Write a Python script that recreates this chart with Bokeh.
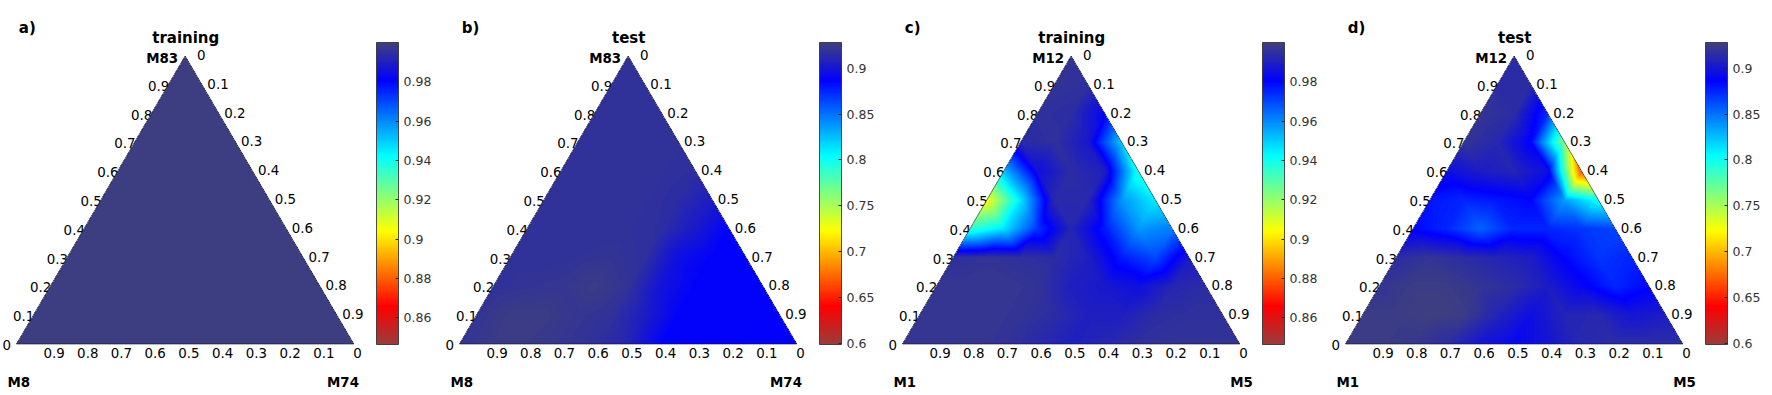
import numpy as np
from bokeh.plotting import figure
from bokeh.models import (LinearColorMapper, ColorBar, FixedTicker,
                          CustomJSTickFormatter, Range1d)
from bokeh.layouts import row
from bokeh.embed import file_html
from bokeh.resources import INLINE
from bokeh.core.properties import value

# ---------------- data ----------------
panel_letters = ["a)", "b)", "c)", "d)"]
panel_titles = ["training", "test", "training", "test"]
top_vertex = ["M83", "M83", "M12", "M12"]
left_vertex = ["M8", "M8", "M1", "M1"]
right_vertex = ["M74", "M74", "M5", "M5"]

# ternary axis tick values (same on the three edges)
axis_ticks = [0.0, 0.1, 0.2, 0.3, 0.4, 0.5, 0.6, 0.7, 0.8, 0.9]

# colour-bar ranges and ticks
cbar_low = [0.8465, 0.599, 0.8465, 0.599]
cbar_high = [1.0, 0.928, 1.0, 0.928]
cbar_ticks_training = [0.86, 0.88, 0.90, 0.92, 0.94, 0.96, 0.98]
cbar_ticks_test = [0.6, 0.65, 0.7, 0.75, 0.8, 0.85, 0.9]

# node values on the 0.1 ternary grid; row k -> top fraction c = k/10,
# entries within a row -> right fraction b = 0, 0.1, ... , 1 - c
acc_a = [
    [0.999, 0.999, 0.999, 0.999, 0.999, 0.999, 0.999, 0.999, 0.999, 0.999, 0.999],
    [0.999, 0.999, 0.999, 0.999, 0.999, 0.999, 0.999, 0.999, 0.999, 0.999],
    [0.999, 0.999, 0.999, 0.999, 0.999, 0.999, 0.999, 0.999, 0.999],
    [0.999, 0.999, 0.999, 0.999, 0.999, 0.999, 0.999, 0.999],
    [0.999, 0.999, 0.999, 0.999, 0.999, 0.999, 0.999],
    [0.999, 0.999, 0.999, 0.999, 0.999, 0.999],
    [0.999, 0.999, 0.999, 0.999, 0.999],
    [0.999, 0.999, 0.999, 0.999],
    [0.999, 0.999, 0.999],
    [0.999, 0.999],
    [0.999],
]
acc_b = [
    [0.920, 0.924, 0.924, 0.921, 0.918, 0.910, 0.887, 0.887, 0.887, 0.887, 0.887],
    [0.920, 0.925, 0.925, 0.921, 0.918, 0.905, 0.887, 0.887, 0.887, 0.888],
    [0.918, 0.920, 0.921, 0.925, 0.919, 0.898, 0.887, 0.887, 0.888],
    [0.918, 0.918, 0.919, 0.920, 0.917, 0.895, 0.887, 0.887],
    [0.918, 0.918, 0.918, 0.918, 0.916, 0.903, 0.887],
    [0.918, 0.918, 0.918, 0.918, 0.915, 0.905],
    [0.918, 0.918, 0.918, 0.918, 0.916],
    [0.918, 0.918, 0.918, 0.918],
    [0.918, 0.918, 0.918],
    [0.918, 0.918],
    [0.918],
]
acc_c = [
    [0.997, 0.997, 0.997, 0.996, 0.993, 0.990, 0.992, 0.995, 0.996, 0.996, 0.996],
    [0.997, 0.997, 0.997, 0.996, 0.994, 0.990, 0.990, 0.994, 0.995, 0.995],
    [0.997, 0.997, 0.997, 0.996, 0.990, 0.988, 0.985, 0.992, 0.994],
    [0.995, 0.996, 0.995, 0.994, 0.990, 0.977, 0.970, 0.988],
    [0.935, 0.946, 0.973, 0.992, 0.977, 0.958, 0.962],
    [0.905, 0.946, 0.993, 0.993, 0.958, 0.945],
    [0.952, 0.985, 0.994, 0.990, 0.938],
    [0.993, 0.995, 0.988, 0.950],
    [0.995, 0.994, 0.982],
    [0.996, 0.995],
    [0.996],
]
acc_d = [
    [0.925, 0.925, 0.922, 0.915, 0.900, 0.890, 0.900, 0.912, 0.915, 0.915, 0.915],
    [0.925, 0.925, 0.927, 0.925, 0.910, 0.895, 0.910, 0.912, 0.900, 0.905],
    [0.920, 0.925, 0.925, 0.920, 0.915, 0.905, 0.890, 0.875, 0.885],
    [0.915, 0.920, 0.915, 0.910, 0.905, 0.885, 0.870, 0.875],
    [0.885, 0.875, 0.855, 0.875, 0.875, 0.870, 0.865],
    [0.880, 0.875, 0.880, 0.885, 0.835, 0.800],
    [0.895, 0.905, 0.910, 0.895, 0.665],
    [0.920, 0.912, 0.885, 0.760],
    [0.920, 0.915, 0.872],
    [0.915, 0.915],
    [0.915],
]
panels_data = [acc_a, acc_b, acc_c, acc_d]

# ---------------- colormap (reversed jet with softened ends) ----------------
anchor_t = [0.0, 0.125, 0.375, 0.625, 0.875, 1.0]
anchor_rgb = [(155, 60, 60), (255, 0, 0), (255, 255, 0), (0, 255, 255), (0, 0, 255), (63, 63, 126)]


def build_palette(n=256):
    t = np.linspace(0, 1, n)
    chans = [np.interp(t, anchor_t, [c[k] for c in anchor_rgb]) for k in range(3)]
    return ["#%02x%02x%02x" % (int(round(r)), int(round(g)), int(round(b)))
            for r, g, b in zip(*chans)]


PALETTE = build_palette()
H = np.sqrt(3) / 2
FONT_NAME = "DejaVu Sans"
FONT = value(FONT_NAME)


def ternary_field(rows, nx, ny):
    N = len(rows) - 1
    V = np.zeros((N + 1, N + 1))
    for i, r in enumerate(rows):
        V[i, :len(r)] = r
    xs = (np.arange(nx) + 0.5) / nx
    ys = (np.arange(ny) + 0.5) / ny * H
    X, Y = np.meshgrid(xs, ys)
    c = Y / H
    b = X - c / 2
    a = 1 - b - c
    inside = (a >= -1e-9) & (b >= -1e-9) & (c >= -1e-9)
    cc = np.clip(c * N, 0, N - 1e-9)
    bb = np.clip(b * N, 0, N - 1e-9)
    i = np.floor(cc).astype(int)
    j = np.floor(bb).astype(int)
    fc = cc - i
    fb = bb - j
    i1 = np.minimum(i + 1, N)
    j1 = np.minimum(j + 1, N)
    lower = (fc + fb) <= 1
    z_low = V[i, j] * (1 - fc - fb) + V[i, j1] * fb + V[i1, j] * fc
    z_up = V[i1, j] * (1 - fb) + V[i, j1] * (1 - fc) + V[i1, j1] * (fc + fb - 1)
    Z = np.where(lower, z_low, z_up)
    Z[~inside] = np.nan
    return Z


# pixel geometry of one panel (panel-local px)
TRI_LEFT_U, TRI_RIGHT_U = 16.0, 353.3
BASE_Y, APEX_Y = 343.5, 55.5
SX = TRI_RIGHT_U - TRI_LEFT_U
SY = (BASE_Y - APEX_Y) / H
PAGE_TOP, PAGE_BOTTOM = 0.0, 395.0
PANEL_W = 443

right_vertex_dx = [-10.8, -10.8, 1.7, 1.7]

figs = []
for k in range(4):
    x0 = (0 - TRI_LEFT_U) / SX
    x1 = (PANEL_W - TRI_LEFT_U) / SX
    y1 = (BASE_Y - PAGE_TOP) / SY
    y0 = (BASE_Y - PAGE_BOTTOM) / SY
    p = figure(width=PANEL_W, height=int(PAGE_BOTTOM - PAGE_TOP),
               x_range=Range1d(x0, x1), y_range=Range1d(y0, y1),
               output_backend="svg", toolbar_location=None,
               x_axis_location=None, y_axis_location=None,
               min_border=0, min_border_left=0, min_border_right=0,
               min_border_top=0, min_border_bottom=0)
    p.grid.visible = False
    p.outline_line_color = None
    p.background_fill_color = "white"

    mapper = LinearColorMapper(palette=PALETTE, low=cbar_low[k], high=cbar_high[k],
                               nan_color=(0, 0, 0, 0))

    tick_lbl = ["%g" % v for v in axis_ticks]
    # left-edge labels (drawn first: the surface hides part of them)
    p.text(x=[v / 2 for v in axis_ticks], y=[v * H for v in axis_ticks], text=tick_lbl,
           x_offset=-9.7, y_offset=1, text_align="center", text_baseline="middle",
           text_font=FONT, text_font_size="13.4px", text_color="black")

    # surface
    Z = ternary_field(panels_data[k], int(round(SX)), int(round(BASE_Y - APEX_Y)))
    p.image(image=[Z], x=0, y=0, dw=1, dh=H, color_mapper=mapper)
    p.patch(x=[0, 1, 0.5], y=[0, 0, H], fill_color=None, line_color="#111111",
            line_width=0.8, line_alpha=0.75)

    # right-edge labels
    p.text(x=[(1 + v) / 2 for v in axis_ticks], y=[(1 - v) * H for v in axis_ticks],
           text=tick_lbl, x_offset=16, y_offset=-1, text_align="center",
           text_baseline="middle", text_font=FONT, text_font_size="13.4px",
           text_color="black")
    # bottom-edge labels
    p.text(x=[1 - v for v in axis_ticks], y=[0.0] * len(axis_ticks), text=tick_lbl,
           x_offset=3.8, y_offset=9, text_align="center", text_baseline="middle",
           text_font=FONT, text_font_size="13.4px", text_color="black")

    # vertex labels
    p.text(x=[0.5], y=[H], text=[top_vertex[k]], x_offset=-7, y_offset=2.8,
           text_align="right", text_baseline="alphabetic", text_font=FONT,
           text_font_style="bold", text_font_size="13.4px", text_color="black")
    p.text(x=[0.0], y=[0.0], text=[left_vertex[k]], x_offset=2.3, y_offset=38.2,
           text_align="center", text_baseline="alphabetic", text_font=FONT,
           text_font_style="bold", text_font_size="13.4px", text_color="black")
    p.text(x=[1.0], y=[0.0], text=[right_vertex[k]], x_offset=right_vertex_dx[k],
           y_offset=38.2, text_align="center", text_baseline="alphabetic",
           text_font=FONT, text_font_style="bold", text_font_size="13.4px",
           text_color="black")

    # title and panel letter
    p.text(x=[0.5], y=[H], text=[panel_titles[k]], x_offset=0.6, y_offset=-18.2,
           text_align="center", text_baseline="alphabetic", text_font=FONT,
           text_font_style="bold", text_font_size="15px", text_color="black")
    p.text(x=[0.0], y=[H], text=[panel_letters[k]], x_offset=2.3, y_offset=-28,
           text_align="left", text_baseline="middle", text_font=FONT,
           text_font_style="bold", text_font_size="15px", text_color="black")

    ticks = cbar_ticks_training if k % 2 == 0 else cbar_ticks_test
    cb = ColorBar(color_mapper=mapper, orientation="vertical",
                  location=(376.0, PAGE_BOTTOM - 344.0),
                  width=22, height=302, padding=0, margin=0,
                  ticker=FixedTicker(ticks=ticks),
                  formatter=CustomJSTickFormatter(code="return String(Math.round(tick*1000)/1000)"),
                  major_tick_in=3, major_tick_out=0,
                  major_tick_line_color="#262626", minor_tick_line_color=None,
                  bar_line_color="#262626", bar_line_width=0.8,
                  border_line_color=None, background_fill_alpha=0,
                  label_standoff=5, major_label_text_font=FONT_NAME,
                  major_label_text_font_size="12.5px",
                  major_label_text_color="#333333")
    p.add_layout(cb)
    figs.append(p)

layout = row(*figs, spacing=0)
open("out.html", "w").write(file_html(layout, INLINE, title="ternary"))
